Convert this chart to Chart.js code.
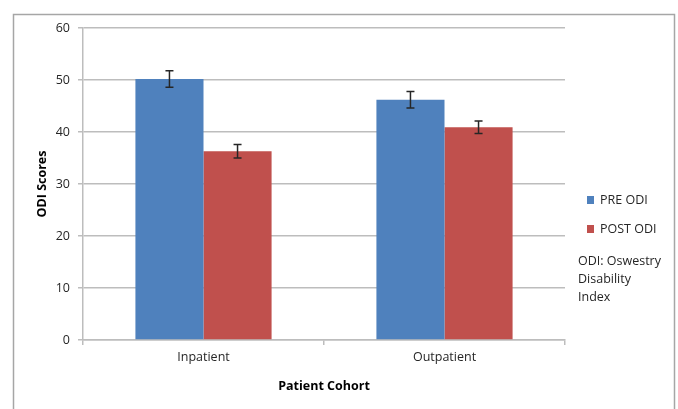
<!DOCTYPE html>
<html>
<head>
<meta charset="utf-8">
<script src="https://cdn.jsdelivr.net/npm/chart.js@4.4.1/dist/chart.umd.min.js"></script>
<style>
  html, body { margin: 0; padding: 0; background: #fff; }
  #wrap { width: 678px; height: 409px; }
</style>
</head>
<body>
<div id="wrap"><canvas id="myChart" width="678" height="409"></canvas></div>
<script>
const categories = ['Inpatient', 'Outpatient'];
const preOdi = [50.2, 46.2];
const postOdi = [36.3, 40.9];
const preErr = [1.6, 1.6];
const postErr = [1.3, 1.2];
const yTicks = [0, 10, 20, 30, 40, 50, 60];
const noteLines = ['ODI: Oswestry', 'Disability', 'Index'];

const font = "'Open Sans', 'Noto Sans', sans-serif";
const blue = '#4f81bd';
const red = '#c0504d';
const gridColor = '#bdbdbd';

// error bars drawn from each dataset's err array
const errorBars = {
    id: 'errorBars',
    afterDatasetsDraw(chart) {
        const ctx = chart.ctx;
        const y = chart.scales.y;
        ctx.save();
        ctx.strokeStyle = '#262626';
        ctx.lineWidth = 1.5;
        chart.data.datasets.forEach((ds, i) => {
            chart.getDatasetMeta(i).data.forEach((bar, j) => {
                const v = ds.data[j];
                const e = ds.err[j];
                const top = y.getPixelForValue(v + e);
                const bottom = y.getPixelForValue(v - e);
                const x = bar.x;
                ctx.beginPath();
                ctx.moveTo(x, top); ctx.lineTo(x, bottom);
                ctx.moveTo(x - 4, top); ctx.lineTo(x + 4, top);
                ctx.moveTo(x - 4, bottom); ctx.lineTo(x + 4, bottom);
                ctx.stroke();
            });
        });
        ctx.restore();
    }
};

// frame, legend and note
const sideBits = {
    id: 'sideBits',
    beforeDraw(chart) {
        const ctx = chart.ctx;
        ctx.save();
        ctx.strokeStyle = '#a6a6a6';
        ctx.lineWidth = 1.5;
        ctx.strokeRect(13.5, 14.5, 661, 420);
        ctx.restore();
    },
    afterDraw(chart) {
        const ctx = chart.ctx;
        ctx.save();
        ctx.font = '12.5px ' + font;
        ctx.textBaseline = 'middle';
        ctx.fillStyle = '#262626';
        chart.data.datasets.forEach((ds, i) => {
            const cy = 200 + i * 29;
            ctx.fillStyle = ds.backgroundColor;
            ctx.fillRect(587, cy - 4, 7, 8);
            ctx.fillStyle = '#262626';
            ctx.fillText(ds.label, 600, cy);
        });
        noteLines.forEach((t, i) => {
            ctx.fillText(t, 578, 261 + i * 18);
        });
        ctx.restore();
    }
};

const data = {
    labels: categories,
    datasets: [
        { label: 'PRE ODI', data: preOdi, err: preErr, backgroundColor: blue },
        { label: 'POST ODI', data: postOdi, err: postErr, backgroundColor: red }
    ]
};

const options = {
    responsive: false,
    animation: false,
    layout: { padding: { top: 28, left: 31, right: 113, bottom: 0 } },
    categoryPercentage: 0.565,
    barPercentage: 1.0,
    plugins: {
        legend: { display: false },
        tooltip: { enabled: false }
    },
    scales: {
        x: {
            afterFit: (s) => { s.height = 69; },
            grid: { display: true, drawOnChartArea: false, drawTicks: true, tickLength: 5, color: gridColor, lineWidth: 1.5, offset: true },
            border: { color: gridColor, width: 1.5 },
            ticks: { color: '#262626', font: { family: font, size: 12.5 }, padding: 5 },
            title: { display: true, text: 'Patient Cohort', color: '#000', font: { family: font, size: 12.5, weight: 'bold' }, padding: { top: 4, bottom: 15 } }
        },
        y: {
            min: 0,
            max: 60,
            afterFit: (s) => { s.width = 52; },
            afterBuildTicks: (s) => { s.ticks = yTicks.map((v) => ({ value: v })); },
            grid: { color: gridColor, lineWidth: 1.5, tickLength: 5 },
            border: { color: gridColor, width: 1.5 },
            ticks: { color: '#262626', font: { family: font, size: 12.5 }, padding: 8 },
            title: { display: true, text: 'ODI Scores', color: '#000', font: { family: font, size: 12.5, weight: 'bold' }, padding: { top: 4, bottom: 4 } }
        }
    }
};

new Chart('myChart', { type: 'bar', data, options, plugins: [errorBars, sideBits] });
</script>
</body>
</html>
